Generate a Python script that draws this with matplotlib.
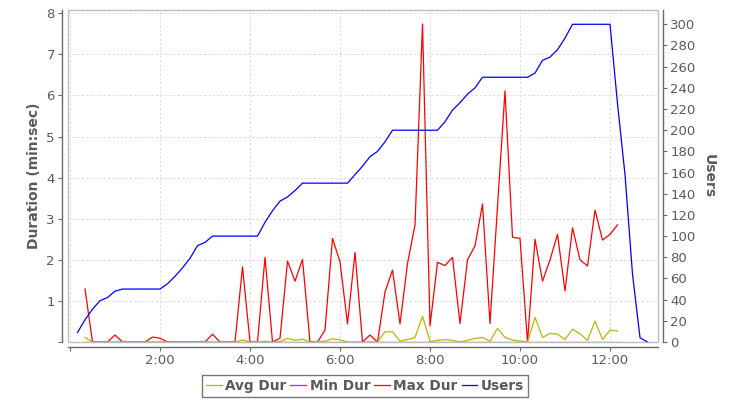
import numpy as np
import matplotlib
matplotlib.use("Agg")
import matplotlib.pyplot as plt
from matplotlib.patches import Rectangle
from matplotlib.ticker import FuncFormatter

# samples every 10 s; durations start at 0:20, users start at 0:10
step_s = 10
dur_start_s = 20
users_start_s = 10

avg_dur = [0.11, 0, 0, 0, 0, 0, 0, 0, 0, 0, 0, 0, 0, 0, 0, 0, 0, 0, 0, 0,
           0, 0.05, 0, 0, 0.02, 0, 0.01, 0.09, 0.04, 0.07, 0, 0, 0.02, 0.08, 0.05, 0,
           0, 0, 0, 0, 0.25, 0.25, 0.02, 0.06, 0.11, 0.63, 0.01, 0.04, 0.06, 0.04,
           0, 0.04, 0.09, 0.11, 0.02, 0.33, 0.11, 0.05, 0.02, 0, 0.60, 0.11, 0.21,
           0.19, 0.06, 0.31, 0.20, 0.04, 0.51, 0.06, 0.29, 0.27]

min_dur = [0] * 72

max_dur = [1.29, 0, 0, 0, 0.17, 0, 0, 0, 0, 0.12, 0.09, 0, 0, 0, 0, 0, 0, 0.19,
           0, 0, 0, 1.83, 0, 0, 2.06, 0, 0.09, 1.97, 1.48, 2.01, 0, 0, 0.29, 2.52,
           1.95, 0.44, 2.18, 0, 0.17, 0, 1.22, 1.75, 0.44, 1.91, 2.85, 7.74, 0.39,
           1.94, 1.86, 2.06, 0.45, 2.00, 2.34, 3.36, 0.45, 3.30, 6.11, 2.55, 2.52,
           0, 2.50, 1.48, 2.00, 2.62, 1.24, 2.78, 2.00, 1.85, 3.21, 2.48, 2.62, 2.85]

users = [9, 21, 31, 39, 42, 48, 50, 50, 50, 50, 50, 50, 55, 62, 70, 79, 91, 94,
         100, 100, 100, 100, 100, 100, 100, 113, 124, 133, 137, 143, 150, 150, 150,
         150, 150, 150, 150, 158, 166, 175, 180, 189, 200, 200, 200, 200, 200, 200,
         200, 208, 219, 226, 234, 240, 250, 250, 250, 250, 250, 250, 250, 254, 266,
         269, 276, 287, 300, 300, 300, 300, 300, 300, 225, 158, 64, 4, 0]

x_ticks = [0, 2, 4, 6, 8, 10, 12]
left_ticks = [0, 1, 2, 3, 4, 5, 6, 7, 8]
right_ticks = list(range(0, 301, 20))

AXIS_GREY = "#6a6a6a"
TEXT_GREY = "#5a5a5a"

t_dur = (dur_start_s + step_s * np.arange(len(max_dur))) / 60.0
t_users = (users_start_s + step_s * np.arange(len(users))) / 60.0

fig = plt.figure(figsize=(7.3, 4.0), dpi=100)
ax = fig.add_axes([67.7 / 730, 58 / 400, 590.6 / 730, 332 / 400])
ax2 = ax.twinx()

l_avg, = ax.plot(t_dur, avg_dur, color="#b8b800", lw=0.9, zorder=4, label="Avg Dur")
l_min, = ax.plot(t_dur, min_dur, color="#ff00ff", lw=0.9, zorder=3, label="Min Dur")
l_max, = ax.plot(t_dur, max_dur, color="#ff0000", lw=0.9, zorder=2, label="Max Dur")
l_usr, = ax2.plot(t_users, users, color="#0000ff", lw=0.9, label="Users")

ax.set_xlim(-0.051, 13.073)
ax.set_ylim(0, 8.08)
ax2.set_ylim(0, 313.5)

ax.set_xticks(x_ticks)
ax.xaxis.set_major_formatter(FuncFormatter(lambda v, p: "" if v == 0 else "%d:00" % v))
ax.set_yticks(left_ticks)
ax.yaxis.set_major_formatter(FuncFormatter(lambda v, p: "" if v == 0 else "%d" % v))
ax2.set_yticks(right_ticks)

ax.grid(True, color="#dcdcdc", lw=0.7, linestyle=(0, (2.5, 2)))

# plot area frame plus axis lines pushed outward
ax.add_patch(Rectangle((0, 0), 1, 1, transform=ax.transAxes, fill=False,
                       ec="#bdbdbd", lw=1.0, clip_on=False, zorder=0.5))
for a in (ax, ax2):
    for s in a.spines.values():
        s.set_visible(False)
ax.spines["left"].set_visible(True)
ax.spines["left"].set_position(("outward", 4.1))
ax.spines["bottom"].set_visible(True)
ax.spines["bottom"].set_position(("outward", 3.6))
ax2.spines["right"].set_visible(True)
ax2.spines["right"].set_position(("outward", 3.6))
for s in (ax.spines["left"], ax.spines["bottom"], ax2.spines["right"]):
    s.set_color(AXIS_GREY)
    s.set_linewidth(1.0)

ax.tick_params(axis="both", direction="out", length=2.9, width=0.8, color=AXIS_GREY,
               labelcolor=TEXT_GREY, labelsize=9.5, pad=2.2)
ax2.tick_params(axis="y", direction="out", length=2.9, width=0.8, color=AXIS_GREY,
                labelcolor=TEXT_GREY, labelsize=9.5, pad=2.2)

ax.set_ylabel("Duration (min:sec)", fontsize=10, fontweight="bold", color=TEXT_GREY,
              va="center", ha="center")
ax.yaxis.set_label_coords(-0.057, 0.5)
ax2.set_ylabel("Users", fontsize=10, fontweight="bold", color=TEXT_GREY,
               rotation=270, va="center", ha="center")
ax2.yaxis.set_label_coords(1.086, 0.5)

leg = fig.legend(handles=[l_avg, l_min, l_max, l_usr], loc="center",
                 bbox_to_anchor=(365 / 730, 1 - 386 / 400), ncol=4, frameon=True,
                 fancybox=False, edgecolor="#555555", borderpad=0.33,
                 handlelength=1.15, handletextpad=0.25, columnspacing=0.3,
                 borderaxespad=0, prop={"size": 9.8, "weight": "bold"})
leg.get_frame().set_linewidth(1.0)
for txt in leg.get_texts():
    txt.set_color(TEXT_GREY)

fig.savefig("out.png", dpi=100)
